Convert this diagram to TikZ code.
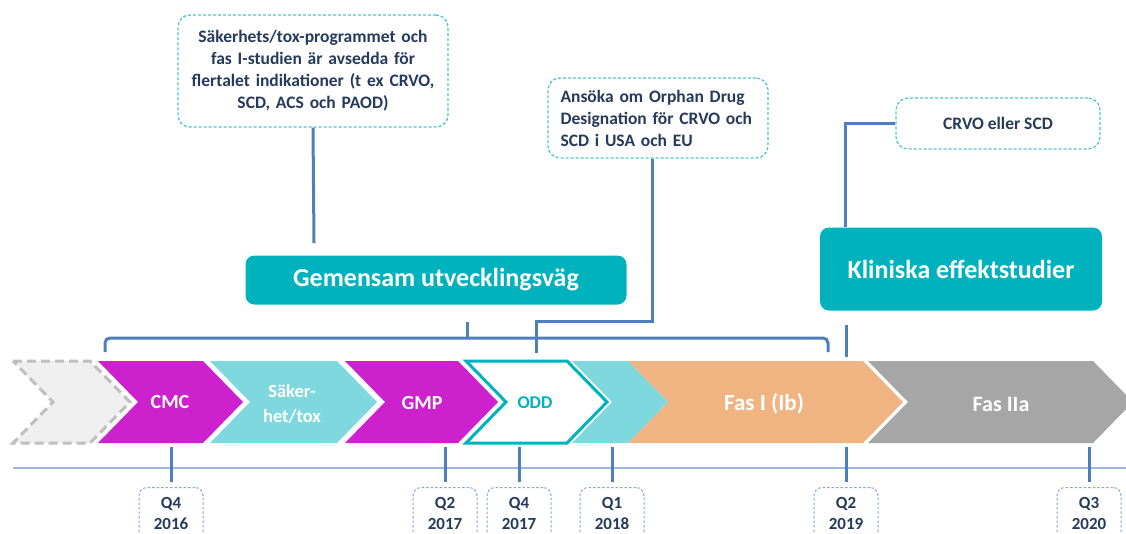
\documentclass[tikz,border=0pt]{standalone}
\usepackage{fontspec}
\setmainfont{Carlito}
\usetikzlibrary{positioning}

\definecolor{turkos}{HTML}{00B2BE}
\definecolor{ljusturkos}{HTML}{80D8DF}
\definecolor{lila}{HTML}{CC21CC}
\definecolor{orangefas}{HTML}{F0B482}
\definecolor{grafas}{HTML}{A6A6A6}
\definecolor{ljusgra}{HTML}{EFEFEF}
\definecolor{strecgra}{HTML}{BFBFBF}
\definecolor{marin}{HTML}{263A5C}
\definecolor{linjebla}{HTML}{4F7EBE}
\definecolor{axelbla}{HTML}{9CB8DD}
\definecolor{ramturkos}{HTML}{4CC6CF}
\definecolor{datumram}{HTML}{84A3D6}

\tikzset{
  linje/.style={line width=3pt, draw=linjebla},
  ruta/.style={draw=ramturkos, line width=1.3pt, dash pattern=on 3pt off 2pt,
    rounded corners=12pt, fill=white, text=marin,
    font=\fontsize{17.5}{22}\selectfont\bfseries},
  fylld/.style={fill=turkos, rounded corners=9pt, text=white,
    font=\fontsize{26}{30}\selectfont\bfseries},
  fastext/.style={text=white, align=center, font=\fontsize{20}{25}\selectfont\bfseries},
  datum/.style={draw=datumram, line width=1pt, dash pattern=on 2.5pt off 2pt,
    rounded corners=8pt, minimum width=64pt, text=marin, align=center,
    anchor=north, inner ysep=10pt, text depth=30pt,
    font=\fontsize{17}{21}\selectfont\bfseries}
}

% pil: vänster x, höger x, stil
\newcommand\pil[3]{\path[#3] (#1,361) -- (#2,361) -- (#2+40,402) -- (#2,443)
  -- (#1,443) -- (#1+40,402) -- cycle;}

\begin{document}
\begin{tikzpicture}[x=1pt,y=-1pt]
    \useasboundingbox (0,0) rectangle (1126,533);
    \clip (0,0) rectangle (1126,533);

    % faserna
    \pil{13}{90}{fill=ljusgra, draw=strecgra, line width=3pt, dash pattern=on 9pt off 5pt}
    \pil{98}{203}{fill=lila}
    \pil{210}{337}{fill=ljusturkos}
    \pil{345}{458}{fill=lila}
    \pil{466}{567}{fill=white, draw=turkos, line width=3pt}
    \pil{628}{863}{fill=orangefas}
    \pil{572}{628}{fill=ljusturkos}
    \pil{868}{1093}{fill=grafas}

    \node[fastext] (cmc) at (170,402) {CMC};
    \node[fastext, font=\fontsize{18.5}{25}\selectfont\bfseries] (tox) at (292,404) {Säker-\\het/tox};
    \node[fastext] (gmp) at (422,403) {GMP};
    \node[fastext, text=turkos, font=\fontsize{18}{22}\selectfont\bfseries] (odd) at (535,403) {ODD};
    \node[fastext, font=\fontsize{23}{28}\selectfont\bfseries] (fas1) at (764,404) {Fas I (Ib)};
    \node[fastext, font=\fontsize{22}{28}\selectfont\bfseries] (fas2) at (1001,404) {Fas IIa};

    % rutor
    \node[ruta, text width=255pt, align=center, minimum width=270pt, minimum height=112pt]
      (sakerhet) at (313,71) {Säkerhets/tox-programmet och\\ fas I-studien är avsedda för\\
      flertalet indikationer (t ex CRVO,\\ SCD, ACS och PAOD)};
    \node[ruta, text width=195pt, align=left, minimum width=220pt, minimum height=80pt]
      (orphan) at (658,118) {Ansöka om Orphan Drug\\ Designation för CRVO och\\ SCD i USA och EU};
    \node[ruta, minimum width=204pt, minimum height=51pt] (crvo) at (998,123.5) {CRVO eller SCD};

    \node[fylld, minimum width=381pt, minimum height=49pt] (gemensam) at (436,280) {Gemensam utvecklingsväg};
    \node[fylld, minimum width=282pt, minimum height=83pt] (klinisk) at (961,269) {Kliniska effektstudier};

    % linjer
    \coordinate (g1) at (314,243);
    \draw[linje] (sakerhet.south) -- (g1);

    \coordinate (hl) at (105,352);
    \coordinate (hr) at (828,352);
    \coordinate (hm) at (467,322);
    \draw[linje, rounded corners=5pt] (hl) -- (105,338) -- (828,338) -- (hr);
    \draw[linje] (467,338) -- (hm);

    \coordinate (o1) at (536,353);
    \draw[linje] ([xshift=-6pt]orphan.south) -- ++(0,163) -| (o1);

    \draw[linje] (crvo.west) -| ([xshift=26pt]klinisk.north west);
    \coordinate (k1) at (846,325);
    \coordinate (k2) at (846,357);
    \draw[linje] (k1) -- (k2);

    % tidslinje
    \draw[line width=2.5pt, axelbla] (13,468) -- (1126,468);
    \foreach \x/\kv/\ar [count=\i] in {171/Q4/2016,445/Q2/2017,519/Q4/2017,612/Q1/2018,846/Q2/2019,1089/Q3/2020}{
      \draw[linje] (\x,447) -- (\x,482);
      \node[datum] (d\i) at (\x,487) {\kv\\\ar};
    }
\end{tikzpicture}
\end{document}
